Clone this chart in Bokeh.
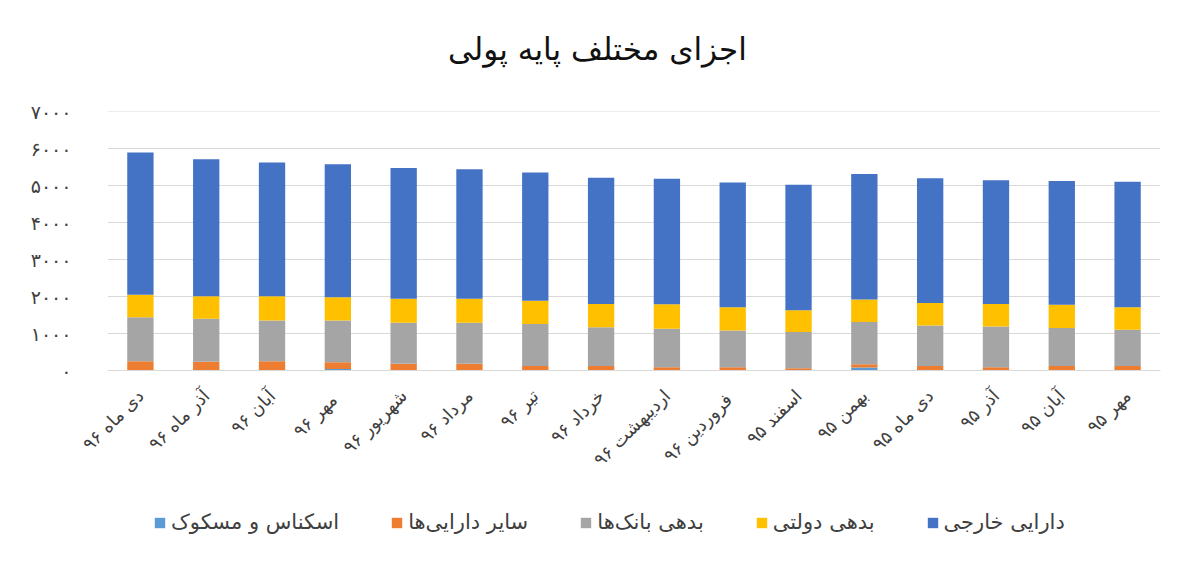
from bokeh.plotting import figure
from bokeh.models import ColumnDataSource, FixedTicker, Legend, LegendItem, Div
from bokeh.layouts import column
from bokeh.embed import file_html
from bokeh.resources import INLINE
import math

title_text = "اجزای مختلف پایه پولی"
categories = ["دی ماه ۹۶", "آذر ماه ۹۶", "آبان ۹۶", "مهر  ۹۶", "شهریور ۹۶", "مرداد ۹۶",
              "تیر ۹۶", "خرداد ۹۶", "اردیبهشت ۹۶", "فروردین  ۹۶", "اسفند ۹۵", "بهمن ۹۵",
              "دی ماه ۹۵", "آذر ۹۵", "آبان ۹۵", "مهر ۹۵"]
banknotes = [0, 0, 0, 40, 0, 0, 0, 0, 0, 0, 0, 80, 0, 0, 0, 0]
other_assets = [250, 240, 250, 180, 180, 180, 120, 120, 90, 90, 60, 90, 120, 90, 120, 120]
bank_debt = [1190, 1160, 1100, 1130, 1110, 1110, 1140, 1050, 1040, 990, 980, 1140, 1100, 1100, 1030, 980]
gov_debt = [610, 610, 660, 630, 650, 650, 630, 630, 660, 630, 590, 610, 610, 610, 630, 610]
foreign_assets = [3850, 3710, 3620, 3600, 3540, 3510, 3470, 3420, 3400, 3380, 3400, 3400, 3370, 3350, 3350, 3400]

series_names = ["اسکناس و مسکوک", "سایر دارایی\u200cها", "بدهی بانک\u200cها", "بدهی دولتی", "دارایی خارجی"]
series_keys = ["banknotes", "other", "banks", "gov", "foreign"]
colors = ["#5B9BD5", "#ED7D31", "#A5A5A5", "#FFC000", "#4472C4"]

y_ticks = [0, 1000, 2000, 3000, 4000, 5000, 6000, 7000]
persian = str.maketrans("0123456789", "۰۱۲۳۴۵۶۷۸۹")
y_tick_labels = {t: str(t).translate(persian) for t in y_ticks}

data = dict(cat=categories, banknotes=banknotes, other=other_assets,
            banks=bank_debt, gov=gov_debt, foreign=foreign_assets)
source = ColumnDataSource(data=data)

FONT = "DejaVu Sans"
W = 1184

title_div = Div(
    text=('<div style="font-family:\'DejaVu Sans\';font-size:31px;color:#111111;'
          'line-height:36px;padding-top:31px;padding-left:448px;white-space:nowrap;">'
          + title_text + '</div>'),
    width=W, height=100, margin=0)

p = figure(x_range=categories, y_range=(0, 7010), width=W, height=380,
           output_backend="svg", toolbar_location=None,
           min_border_left=107, min_border_right=24, min_border_top=11, min_border_bottom=110)

p.vbar_stack(series_keys, x="cat", width=0.4, color=colors, line_color=None, source=source)

p.yaxis.ticker = FixedTicker(ticks=y_ticks)
p.yaxis.major_label_overrides = y_tick_labels
p.yaxis.axis_line_color = None
p.yaxis.major_tick_line_color = None
p.yaxis.minor_tick_line_color = None
p.yaxis.major_label_text_font = FONT
p.yaxis.major_label_text_font_size = "19px"
p.yaxis.major_label_text_color = "#404040"
p.yaxis.major_label_standoff = 30

p.xaxis.axis_line_color = "#D9D9D9"
p.xaxis.major_tick_line_color = None
p.xaxis.minor_tick_line_color = None
p.xaxis.major_label_orientation = math.pi / 4
p.xaxis.major_label_text_font = FONT
p.xaxis.major_label_text_font_size = "18px"
p.xaxis.major_label_text_color = "#404040"
p.xaxis.major_label_standoff = 16

p.xgrid.grid_line_color = None
p.ygrid.grid_line_color = "#D9D9D9"
p.outline_line_color = None
p.x_range.range_padding = 0

# legend strip below the chart
lg = figure(x_range=categories, y_range=(100000, 100001), width=W, height=70,
            output_backend="svg", toolbar_location=None,
            min_border_left=107, min_border_right=24, min_border_top=0, min_border_bottom=0)
lg_renderers = lg.vbar_stack(series_keys, x="cat", width=0.4, color=colors, line_color=None,
                             source=ColumnDataSource(data=data))
lg.axis.visible = False
lg.grid.visible = False
lg.outline_line_color = None
legend = Legend(items=[LegendItem(label=n, renderers=[r]) for n, r in zip(series_names, lg_renderers)],
                orientation="horizontal", location=(46, 16),
                label_text_font=FONT, label_text_font_size="21px", label_text_color="#404040",
                glyph_width=13, glyph_height=13, spacing=51, label_standoff=5,
                border_line_color=None, background_fill_alpha=0, margin=0, padding=0)
lg.add_layout(legend, "center")

layout = column(title_div, p, lg, spacing=0)
open("out.html", "w").write(file_html(layout, INLINE))
